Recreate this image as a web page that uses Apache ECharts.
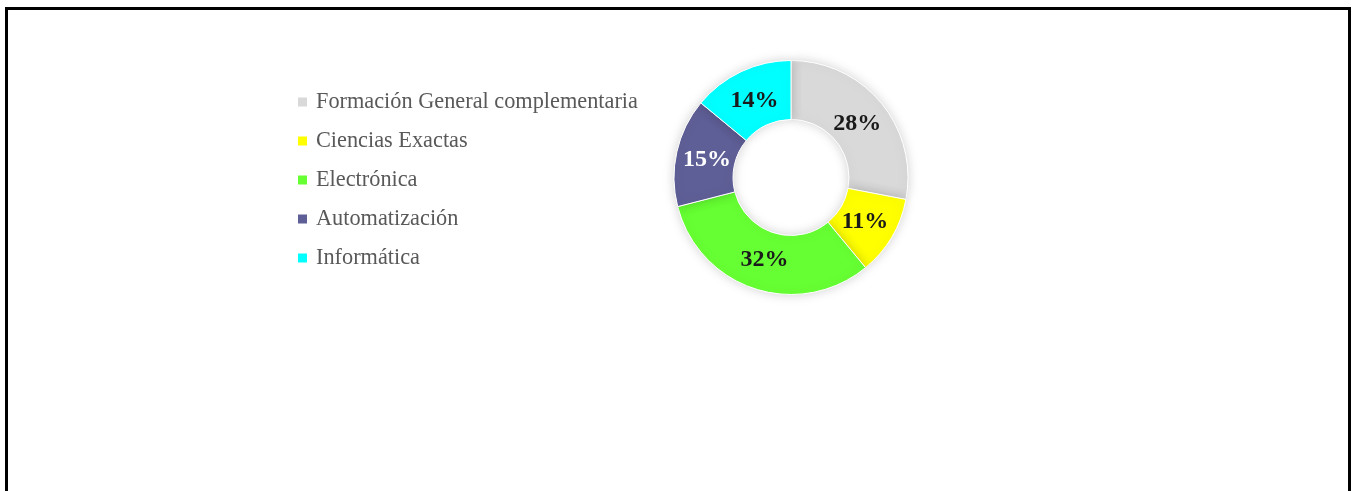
<!DOCTYPE html>
<html><head><meta charset="utf-8">
<script src="https://cdn.jsdelivr.net/npm/echarts@6/dist/echarts.min.js"></script>
<style>html,body{margin:0;padding:0;background:#fff;}#c{width:1352px;height:491px;}</style>
</head><body><div id="c"></div>
<script>
const categories = ['Formación General complementaria','Ciencias Exactas','Electrónica','Automatización','Informática'];
const values = [28, 11, 32, 15, 14];
const colors = ['#D9D9D9','#FFFF00','#66FF33','#5F5F97','#00FFFF'];
const labelColors = ['#1a1a1a','#1a1a1a','#1a1a1a','#ffffff','#1a1a1a'];

const chart = echarts.init(document.getElementById('c'));
chart.setOption({
  animation: false,
  graphic: [{type:'rect', shape:{x:6.5, y:8.5, width:1343, height:500}, style:{fill:'none', stroke:'#000', lineWidth:3}, z:100}],
  legend: {
    orient:'vertical', left:298, top:91, padding:0, itemWidth:9, itemHeight:9, itemGap:17, icon:'rect',
    itemStyle:{borderWidth:0, shadowBlur:0},
    textStyle:{fontFamily:'Liberation Serif', fontSize:22.3, color:'#595959', lineHeight:22, padding:[0,0,0,4]},
    data: categories
  },
  series: [{
    type:'pie', center:[791,177.5], radius:[58,117], startAngle:90, clockwise:true,
    label:{show:false},
    labelLine:{show:false},
    itemStyle:{borderColor:'#fff', borderWidth:1, shadowBlur:12, shadowColor:'rgba(0,0,0,0.18)'},
    emphasis:{disabled:true},
    data: categories.map((n,i)=>({name:n, value:values[i], itemStyle:{color:colors[i]}}))
  },{
    type:'pie', center:[791,178.5], radius:[55,111], startAngle:90, clockwise:true, silent:true,
    legendHoverLink:false,
    label:{show:true, position:'inside', formatter:'{d}%', fontFamily:'Liberation Serif', fontWeight:'bold', fontSize:24},
    labelLine:{show:false},
    itemStyle:{color:'rgba(0,0,0,0)', borderWidth:0},
    emphasis:{disabled:true},
    data: categories.map((n,i)=>({name:n, value:values[i], label:{color:labelColors[i]}}))
  }]
});
</script></body></html>
